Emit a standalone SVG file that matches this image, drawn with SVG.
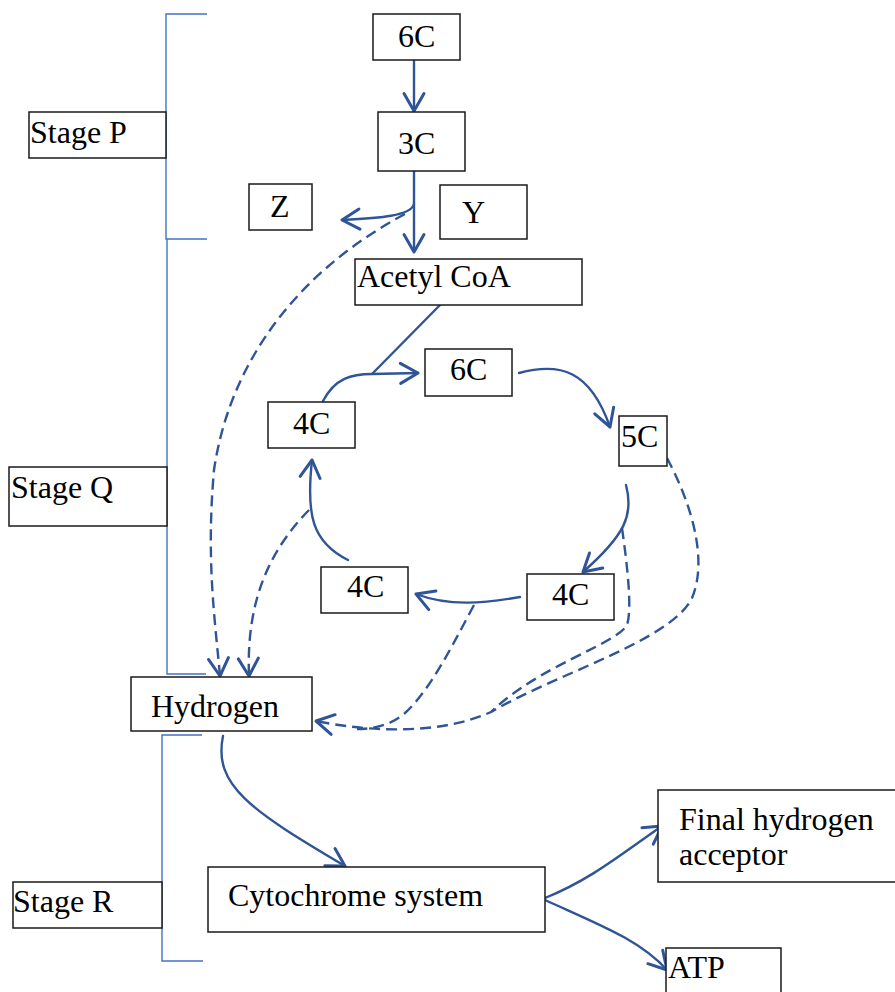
<svg xmlns="http://www.w3.org/2000/svg" width="895" height="992" viewBox="0 0 895 992">
<defs>
<marker id="ah" markerUnits="userSpaceOnUse" markerWidth="30" markerHeight="30" refX="0" refY="0" viewBox="-16 -12 20 24" orient="auto" overflow="visible">
<path d="M-14,-8 L0,0 L-14,8" fill="none" stroke="#2F5597" stroke-width="2.4" stroke-linecap="round" stroke-linejoin="round" stroke-dasharray="none"/>
</marker>
<style>
.box{fill:#fff;stroke:#1a1a1a;stroke-width:1.5}
.t{font-family:"Liberation Serif","Times New Roman",serif;font-size:32px;fill:#000}
.a{fill:none;stroke:#2F5597;stroke-width:2.4;stroke-linecap:round}
.d{fill:none;stroke:#2F5597;stroke-width:2.4;stroke-dasharray:11 6}
.br{fill:none;stroke:#4472C4;stroke-width:1.4}
</style>
</defs>
<rect width="895" height="992" fill="#fff"/>

<g id="brackets">
<path class="br" d="M207,14 H166 V239 H207"/>
<path class="br" d="M167,239 V674 H206"/>
<path class="br" d="M202,735 H162 V961 H203"/>
</g>

<g id="connectors">
<path class="a" d="M414,61 V111" marker-end="url(#ah)"/>
<path class="a" d="M414,171 V252" marker-end="url(#ah)"/>
<path class="a" d="M414,204 C411,216 380,218 342,220" marker-end="url(#ah)"/>
<path class="a" d="M440,305 L372,374"/>
<path class="a" d="M323,401 C335,378 352,374 372,374 L418,373" marker-end="url(#ah)"/>
<path class="a" d="M519,373 C560,362 590,370 610,427" marker-end="url(#ah)"/>
<path class="a" d="M626,485 C634,515 625,535 583,572" marker-end="url(#ah)"/>
<path class="a" d="M520,597 C485,603 450,607 416,594" marker-end="url(#ah)"/>
<path class="a" d="M348,560 C312,542 306,515 312,460" marker-end="url(#ah)"/>
<path class="a" d="M223,736 C213,785 250,810 345,866" marker-end="url(#ah)"/>
<path class="a" d="M545,898 C590,880 620,855 662,826" marker-end="url(#ah)"/>
<path class="a" d="M545,900 C600,925 640,940 667,970" marker-end="url(#ah)"/>

<path class="d" d="M405,214 C300,270 230,360 214,470 C206,560 215,620 220,676" marker-end="url(#ah)"/>
<path class="d" d="M309,510 C270,550 246,600 249,676" marker-end="url(#ah)"/>
<path class="d" d="M667,458 C692,505 708,560 692,598 C672,640 560,672 491,712 C440,735 370,732 316,721" marker-end="url(#ah)"/>
<path class="d" d="M622,528 C628,570 632,610 627,625 C615,645 540,665 491,712"/>
<path class="d" d="M474,605 C450,650 430,690 405,713 C390,726 372,729 357,729"/>
</g>

<g id="n6C"><rect class="box" x="373" y="14" width="87" height="46"/><text class="t" x="398" y="47">6C</text></g>
<g id="n3C"><rect class="box" x="378" y="112" width="87" height="59"/><text class="t" x="398" y="154">3C</text></g>
<g id="nZ"><rect class="box" x="249" y="184" width="63" height="46"/><text class="t" x="270" y="217">Z</text></g>
<g id="nY"><rect class="box" x="440" y="185" width="87" height="54"/><text class="t" x="462" y="223">Y</text></g>
<g id="nAcetyl"><rect class="box" x="355" y="259" width="227" height="46"/><text class="t" x="357" y="287">Acetyl CoA</text></g>
<g id="nCycle6C"><rect class="box" x="425" y="349" width="87" height="47"/><text class="t" x="450" y="380">6C</text></g>
<g id="n4CLeft"><rect class="box" x="268" y="402" width="87" height="46"/><text class="t" x="293" y="434">4C</text></g>
<g id="n5C"><rect class="box" x="619" y="416" width="48" height="50"/><text class="t" x="621" y="447">5C</text></g>
<g id="n4CBR"><rect class="box" x="527" y="574" width="87" height="46"/><text class="t" x="552" y="605">4C</text></g>
<g id="n4CBL"><rect class="box" x="321" y="567" width="87" height="46"/><text class="t" x="347" y="597">4C</text></g>
<g id="nHydrogen"><rect class="box" x="131" y="677" width="181" height="54"/><text class="t" x="151" y="717">Hydrogen</text></g>
<g id="nStageP"><rect class="box" x="29" y="112" width="137" height="46"/><text class="t" x="30" y="143">Stage P</text></g>
<g id="nStageQ"><rect class="box" x="9" y="467" width="158" height="59"/><text class="t" x="11" y="498">Stage Q</text></g>
<g id="nStageR"><rect class="box" x="13" y="882" width="149" height="46"/><text class="t" x="13" y="912">Stage R</text></g>
<g id="nCyto"><rect class="box" x="208" y="867" width="337" height="65"/><text class="t" x="228" y="906">Cytochrome system</text></g>
<g id="nFinal"><rect class="box" x="658" y="790" width="240" height="92"/><text class="t" x="679" y="830">Final hydrogen</text><text class="t" x="679" y="865">acceptor</text></g>
<g id="nATP"><rect class="box" x="666" y="948" width="115" height="50"/><text class="t" x="668" y="978">ATP</text></g>
</svg>
